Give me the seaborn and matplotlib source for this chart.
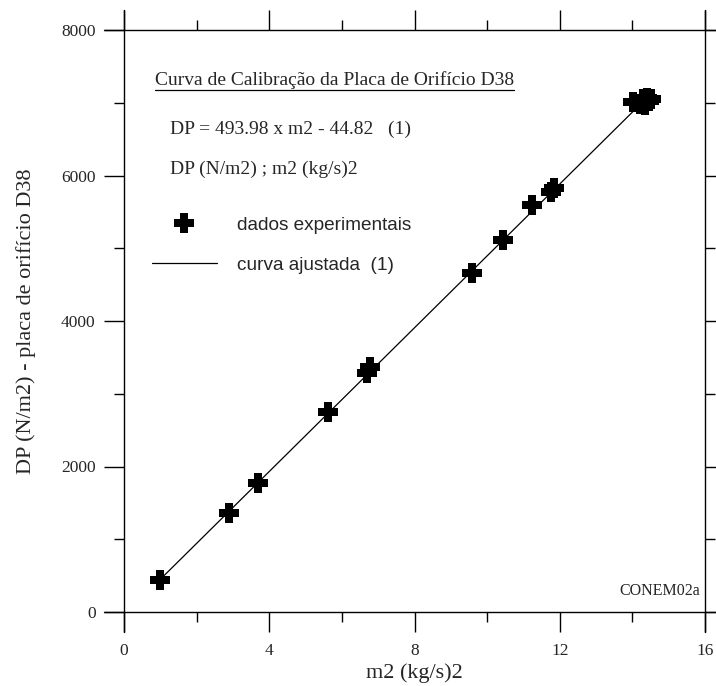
import matplotlib
matplotlib.use("Agg")
import matplotlib.pyplot as plt
import seaborn as sns
import pandas as pd
import numpy as np
from matplotlib.lines import Line2D
from matplotlib.path import Path

sns.set_theme(style="ticks")
plt.rcParams['font.family'] = ['Liberation Serif', 'DejaVu Serif']

# Data
m2 = [1.0, 2.9, 3.68, 5.62, 6.68, 6.78, 9.59, 10.43, 11.23, 11.76, 11.84,
      14.02, 14.2, 14.3, 14.35, 14.3, 14.4, 14.45, 14.5]
dp = [440, 1360, 1770, 2745, 3280, 3370, 4665, 5115, 5595, 5770, 5830,
      7010, 6985, 7050, 6975, 7000, 7065, 7020, 7045]

# fitted curve (1)
slope = 493.98
intercept = -44.82

df = pd.DataFrame({"m2": m2, "DP": dp})
x_fit = np.array([min(m2), max(m2)])
fit = pd.DataFrame({"m2": x_fit, "DP": slope * x_fit + intercept})

# chunky plus marker
w, L = 0.2, 0.5
plus = Path([(-w, L), (w, L), (w, w), (L, w), (L, -w), (w, -w), (w, -L),
             (-w, -L), (-w, -w), (-L, -w), (-L, w), (-w, w), (-w, L)])

fig = plt.figure(figsize=(7.16, 6.86), dpi=100)
ax = fig.add_axes([124 / 716, 74 / 686, 581 / 716, 582 / 686])

sns.lineplot(x="m2", y="DP", data=fit, ax=ax, color="black", lw=0.9, zorder=2)
sns.scatterplot(x="m2", y="DP", data=df, ax=ax, marker=plus, s=200,
                color="black", edgecolor="black", linewidth=0, zorder=3)

ax.set_xlim(0, 16)
ax.set_ylim(0, 8000)
ax.set_xticks([0, 4, 8, 12, 16])
ax.set_xticks([2, 6, 10, 14], minor=True)
ax.set_yticks([0, 2000, 4000, 6000, 8000])
ax.set_yticks([1000, 3000, 5000, 7000], minor=True)

# spines drawn as lines extending past the corners
for s in ax.spines.values():
    s.set_visible(False)
ext_x = 20 / 581
ext_y = 20 / 582
for yy in (0, 1):
    ax.plot([-ext_x, 1 + ext_x], [yy, yy], transform=ax.transAxes,
            color="black", lw=1, clip_on=False)
for xx in (0, 1):
    ax.plot([xx, xx], [-ext_y, 1 + ext_y], transform=ax.transAxes,
            color="black", lw=1, clip_on=False)

ax.tick_params(which="both", direction="out", top=True, right=True,
               labeltop=False, labelright=False, color="black", width=1)
ax.tick_params(which="major", length=14.5, labelsize=12.5, pad=6)
ax.tick_params(axis="x", which="major", pad=8)
ax.tick_params(which="minor", length=7.5)

ax.set_xlabel("m2 (kg/s)2", fontsize=16, labelpad=3)
ax.set_ylabel("DP (N/m2) - placa de orifício D38", fontsize=16, labelpad=18)

# annotations
title = ax.text(0.053, 0.914, "Curva de Calibração da Placa de Orifício D38",
                transform=ax.transAxes, fontsize=14, va="center", ha="left")
ax.text(0.079, 0.829, "DP = 493.98 x m2 - 44.82   (1)", transform=ax.transAxes,
        fontsize=14, va="center", ha="left")
ax.text(0.079, 0.761, "DP (N/m2) ; m2 (kg/s)2", transform=ax.transAxes,
        fontsize=14, va="center", ha="left")
ax.text(0.991, 0.036, "CONEM02a", transform=ax.transAxes,
        fontsize=11.5, va="center", ha="right")

# underline the title
fig.canvas.draw()
bb = title.get_window_extent().transformed(ax.transAxes.inverted())
ax.plot([bb.x0, bb.x1], [bb.y0 - 0.001, bb.y0 - 0.001], transform=ax.transAxes,
        color="black", lw=0.9, clip_on=False)

handles = [
    Line2D([], [], marker=plus, color="black", linestyle="none", markersize=14.2,
           markeredgewidth=0),
    Line2D([], [], color="black", lw=0.9),
]
ax.legend(handles, ["dados experimentais", "curva ajustada  (1)"],
          loc="upper left", bbox_to_anchor=(0.048, 0.68), frameon=False,
          prop={"family": "Liberation Sans", "size": 13.7}, handlelength=3.4,
          handletextpad=1.05, labelspacing=1.2, borderpad=0, borderaxespad=0)

fig.savefig("out.png", dpi=100)
